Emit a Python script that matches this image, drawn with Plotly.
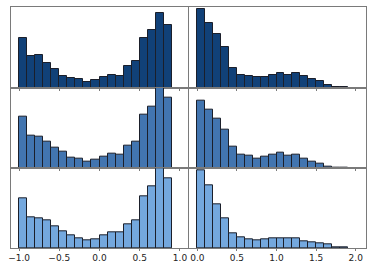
import plotly.graph_objects as go

left_edges = [-1.0, -0.9, -0.8, -0.7, -0.6, -0.5, -0.4, -0.3, -0.2, -0.1,
              0.0, 0.1, 0.2, 0.3, 0.4, 0.5, 0.6, 0.7, 0.8]
right_edges = [0.0, 0.1, 0.2, 0.3, 0.4, 0.5, 0.6, 0.7, 0.8, 0.9,
               1.0, 1.1, 1.2, 1.3, 1.4, 1.5, 1.6, 1.7, 1.8]

row1_left = [50.7, 32, 33, 24.7, 19, 12.3, 9.7, 9, 5.7, 8, 11, 12.7, 11.7, 22.3, 27, 51, 59.3, 75.7, 64.3]
row1_right = [80, 65.7, 54.7, 41.7, 20, 13, 12, 10.7, 10.7, 13, 15.3, 13, 15, 12, 8.7, 7.3, 2.7, 1, 0.7]
row2_left = [52.7, 33, 32.3, 27, 21.3, 17, 11, 10, 6.7, 8.7, 12, 15, 14, 23, 27, 55, 63, 83, 71.7]
row2_right = [69, 59.3, 50, 39.3, 22.3, 13.7, 13.3, 10, 12, 13.7, 16, 13.3, 13.7, 9.7, 6.7, 4.3, 2, 0.7, 0.3]
row3_left = [50, 31, 29.7, 27.7, 22, 16.7, 13, 10, 7.7, 8.7, 13, 16, 16, 24, 28, 53, 63, 81, 71]
row3_right = [78.7, 63.3, 44.7, 30, 15, 10.7, 9.3, 8, 8.7, 10.3, 10, 9.7, 9.7, 7.3, 5.7, 5, 3.7, 1, 1]

left_ticks = [-1.0, -0.5, 0.0, 0.5, 1.0]
left_labels = ["\u22121.0", "\u22120.5", "0.0", "0.5", "1.0"]
right_ticks = [0.0, 0.5, 1.0, 1.5, 2.0]
right_labels = ["0.0", "0.5", "1.0", "1.5", "2.0"]

colors = ["#114178", "#4275b0", "#74a8de"]
row_data = [(row1_left, row1_right), (row2_left, row2_right), (row3_left, row3_right)]
row_ranges = [82.3, 82.0, 81.0]

W, H = 374, 269
ml, mr, mt, mb = 11, 8, 6, 18
pw = W - ml - mr
ph = H - mt - mb
xl_dom = [0, (188 - ml) / pw]
xr_dom = [(189 - ml) / pw, 1]
row_px = [(6, 88), (88, 170), (170, 251)]

fig = go.Figure()
gray = "#7a7a7a"
for r in range(3):
    for c in range(2):
        idx = r * 2 + c + 1
        xa = "x" if idx == 1 else f"x{idx}"
        ya = "y" if idx == 1 else f"y{idx}"
        edges = left_edges if c == 0 else right_edges
        vals = row_data[r][c]
        fig.add_trace(go.Bar(
            x=edges, y=vals, width=0.1, offset=0,
            marker=dict(color=colors[r], line=dict(color="#1b1f2a", width=1)),
            xaxis=xa, yaxis=ya, showlegend=False, hoverinfo="skip"))
        top, bot = row_px[r]
        ydom = [(H - mb - bot) / ph, (H - mb - top) / ph]
        xdom = xl_dom if c == 0 else xr_dom
        xkey = "xaxis" if idx == 1 else f"xaxis{idx}"
        ykey = "yaxis" if idx == 1 else f"yaxis{idx}"
        fig.layout[xkey] = dict(
            domain=xdom, anchor=ya,
            range=[-1.1, 1.1] if c == 0 else [-0.105, 2.13],
            tickvals=left_ticks if c == 0 else right_ticks,
            ticktext=(left_labels if c == 0 else right_labels) if r == 2 else [""] * 5,
            showticklabels=(r == 2),
            ticks="outside", ticklen=2, tickcolor=gray, tickwidth=1,
            ticklabelstandoff=-1,
            showgrid=False, zeroline=False,
            showline=True, mirror=True, linecolor=gray, linewidth=1.2,
            tickfont=dict(family="DejaVu Sans", size=9, color="#222222"),
        )
        fig.layout[ykey] = dict(
            domain=ydom, anchor=xa, range=[0, row_ranges[r]],
            showticklabels=False, ticks="", showgrid=False, zeroline=False,
            showline=True, mirror=True, linecolor=gray, linewidth=1.2,
        )

fig.update_layout(
    width=W, height=H,
    margin=dict(l=ml, r=mr, t=mt, b=mb, pad=0),
    plot_bgcolor="white", paper_bgcolor="white",
    bargap=0,
)
fig.write_html("out.html", config={"displayModeBar": False},
               post_script="document.body.style.margin='0';document.body.style.padding='0';")
